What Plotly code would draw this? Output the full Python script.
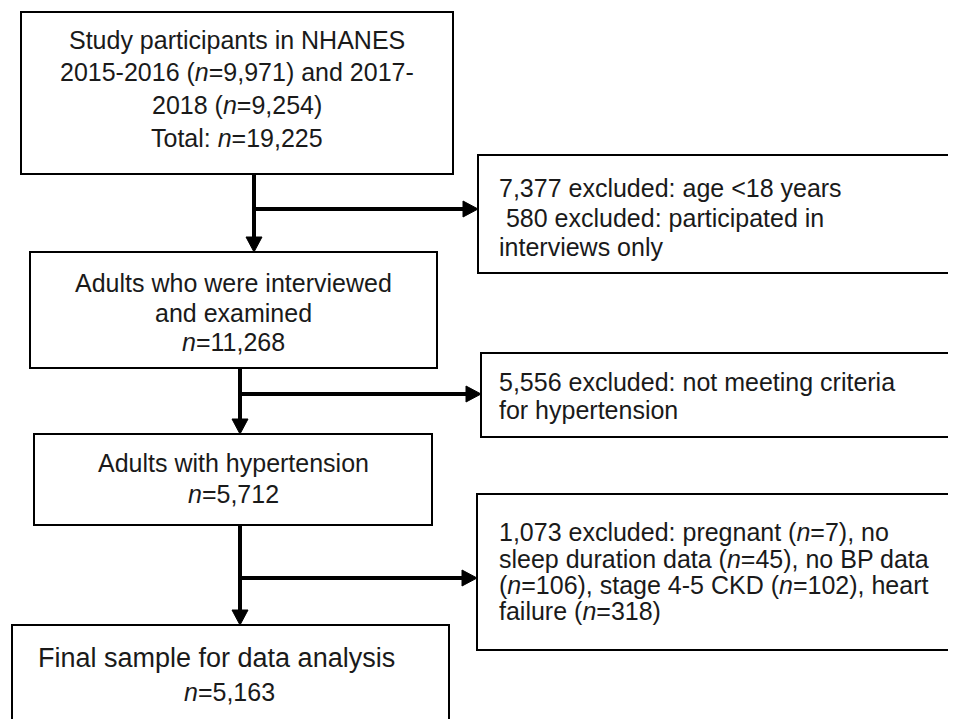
import plotly.graph_objects as go

# ---- data (counts shown in the flow chart) ----
n_2015_2016 = 9971
n_2017_2018 = 9254
n_total = 19225
n_adults_examined = 11268
n_hypertension = 5712
n_final = 5163

excl_age = 7377
excl_interview_only = 580
excl_not_htn = 5556
excl_step3_total = 1073
excl_pregnant = 7
excl_no_sleep = 45
excl_no_bp = 106
excl_ckd = 102
excl_hf = 318


def f(v):
    return f"{v:,}"


N = "<i>n</i>"

main_lines = [
    ["Study participants in NHANES",
     f"2015-2016 ({N}={f(n_2015_2016)}) and 2017-",
     f"2018 ({N}={f(n_2017_2018)})",
     f"Total: {N}={f(n_total)}"],
    ["Adults who were interviewed",
     "and examined",
     f"{N}={f(n_adults_examined)}"],
    ["Adults with hypertension",
     f"{N}={f(n_hypertension)}"],
    ["Final sample for data analysis",
     f"{N}={f(n_final)}"],
]

excl_lines = [
    [f"{f(excl_age)} excluded: age &lt;18 years",
     f" {f(excl_interview_only)} excluded: participated in",
     "interviews only"],
    [f"{f(excl_not_htn)} excluded: not meeting criteria",
     "for hypertension"],
    [f"{f(excl_step3_total)} excluded: pregnant ({N}={excl_pregnant}), no",
     f"sleep duration data ({N}={excl_no_sleep}), no BP data",
     f"({N}={excl_no_bp}), stage 4-5 CKD ({N}={excl_ckd}), heart",
     f"failure ({N}={excl_hf})"],
]

# ---- layout geometry (pixels in the page, y downwards) ----
W, H = 956, 719
PAGE_OFF = 8  # default body margin of the html page
main_boxes = [(21, 453, 12, 174), (30, 437, 252, 368), (34, 432, 434, 525), (12, 449, 625, 760)]
main_text_y = [[40, 72, 105, 138], [283, 313, 342], [463, 494], [658, 692]]
main_text_size = [[25, 25, 25, 25], [25, 25, 25], [25, 25], [27, 25]]
main_text_dx = [[0, 0, 0, 0], [0, 0, 0], [0, 0], [-14, -1]]
excl_boxes = [(478, 954, 155, 273), (481, 975, 353, 437), (477, 975, 494, 650)]
excl_text_y = [[188, 218, 247], [382, 410], [532, 559, 585, 611]]
excl_text_x = 497
arrow_x = [254, 240, 240]
branch_y = [209, 394, 578]

FONT = "Liberation Sans, Arial, sans-serif"
FS = 25
TXT = "#1a1a1a"
LW_BOX = 2
LW_ARR = 4
HEAD_L, HEAD_W = 15, 8

fig = go.Figure()
shapes = []
annotations = []

for (x0, x1, y0, y1) in main_boxes + excl_boxes:
    shapes.append(dict(type="rect", xref="x", yref="y", x0=x0, x1=x1, y0=y0, y1=y1,
                       line=dict(color="black", width=LW_BOX), fillcolor="white", layer="below"))

for i in range(3):
    x = arrow_x[i]
    ytop = main_boxes[i][3]
    ytip = main_boxes[i + 1][2]
    shapes.append(dict(type="line", xref="x", yref="y", x0=x, x1=x, y0=ytop, y1=ytip - HEAD_L + 1,
                       line=dict(color="black", width=LW_ARR)))
    shapes.append(dict(type="path", xref="x", yref="y",
                       path=f"M {x - HEAD_W} {ytip - HEAD_L} L {x + HEAD_W} {ytip - HEAD_L} L {x} {ytip} Z",
                       fillcolor="black", line=dict(color="black", width=1)))
    yb = branch_y[i]
    xtip = excl_boxes[i][0]
    shapes.append(dict(type="line", xref="x", yref="y", x0=x, x1=xtip - HEAD_L + 1, y0=yb, y1=yb,
                       line=dict(color="black", width=LW_ARR)))
    shapes.append(dict(type="path", xref="x", yref="y",
                       path=f"M {xtip - HEAD_L} {yb - HEAD_W} L {xtip - HEAD_L} {yb + HEAD_W} L {xtip} {yb} Z",
                       fillcolor="black", line=dict(color="black", width=1)))

for box, lines, ys, sizes, dxs in zip(main_boxes, main_lines, main_text_y, main_text_size, main_text_dx):
    cx = (box[0] + box[1]) / 2
    for t, y, s, dx in zip(lines, ys, sizes, dxs):
        annotations.append(dict(x=cx + dx, y=y, xref="x", yref="y", text=t, showarrow=False,
                                xanchor="center", yanchor="middle",
                                font=dict(family=FONT, size=s, color=TXT)))

for lines, ys in zip(excl_lines, excl_text_y):
    for t, y in zip(lines, ys):
        annotations.append(dict(x=excl_text_x, y=y, xref="x", yref="y", text=t, showarrow=False,
                                xanchor="left", yanchor="middle",
                                font=dict(family=FONT, size=FS, color=TXT)))

fig.update_layout(
    width=W, height=H,
    margin=dict(l=0, r=0, t=0, b=0),
    paper_bgcolor="white", plot_bgcolor="white",
    xaxis=dict(range=[PAGE_OFF, W + PAGE_OFF], visible=False, fixedrange=True),
    yaxis=dict(range=[H + PAGE_OFF, PAGE_OFF], visible=False, fixedrange=True),
    shapes=shapes, annotations=annotations, showlegend=False,
)

fig.write_html("out.html")
